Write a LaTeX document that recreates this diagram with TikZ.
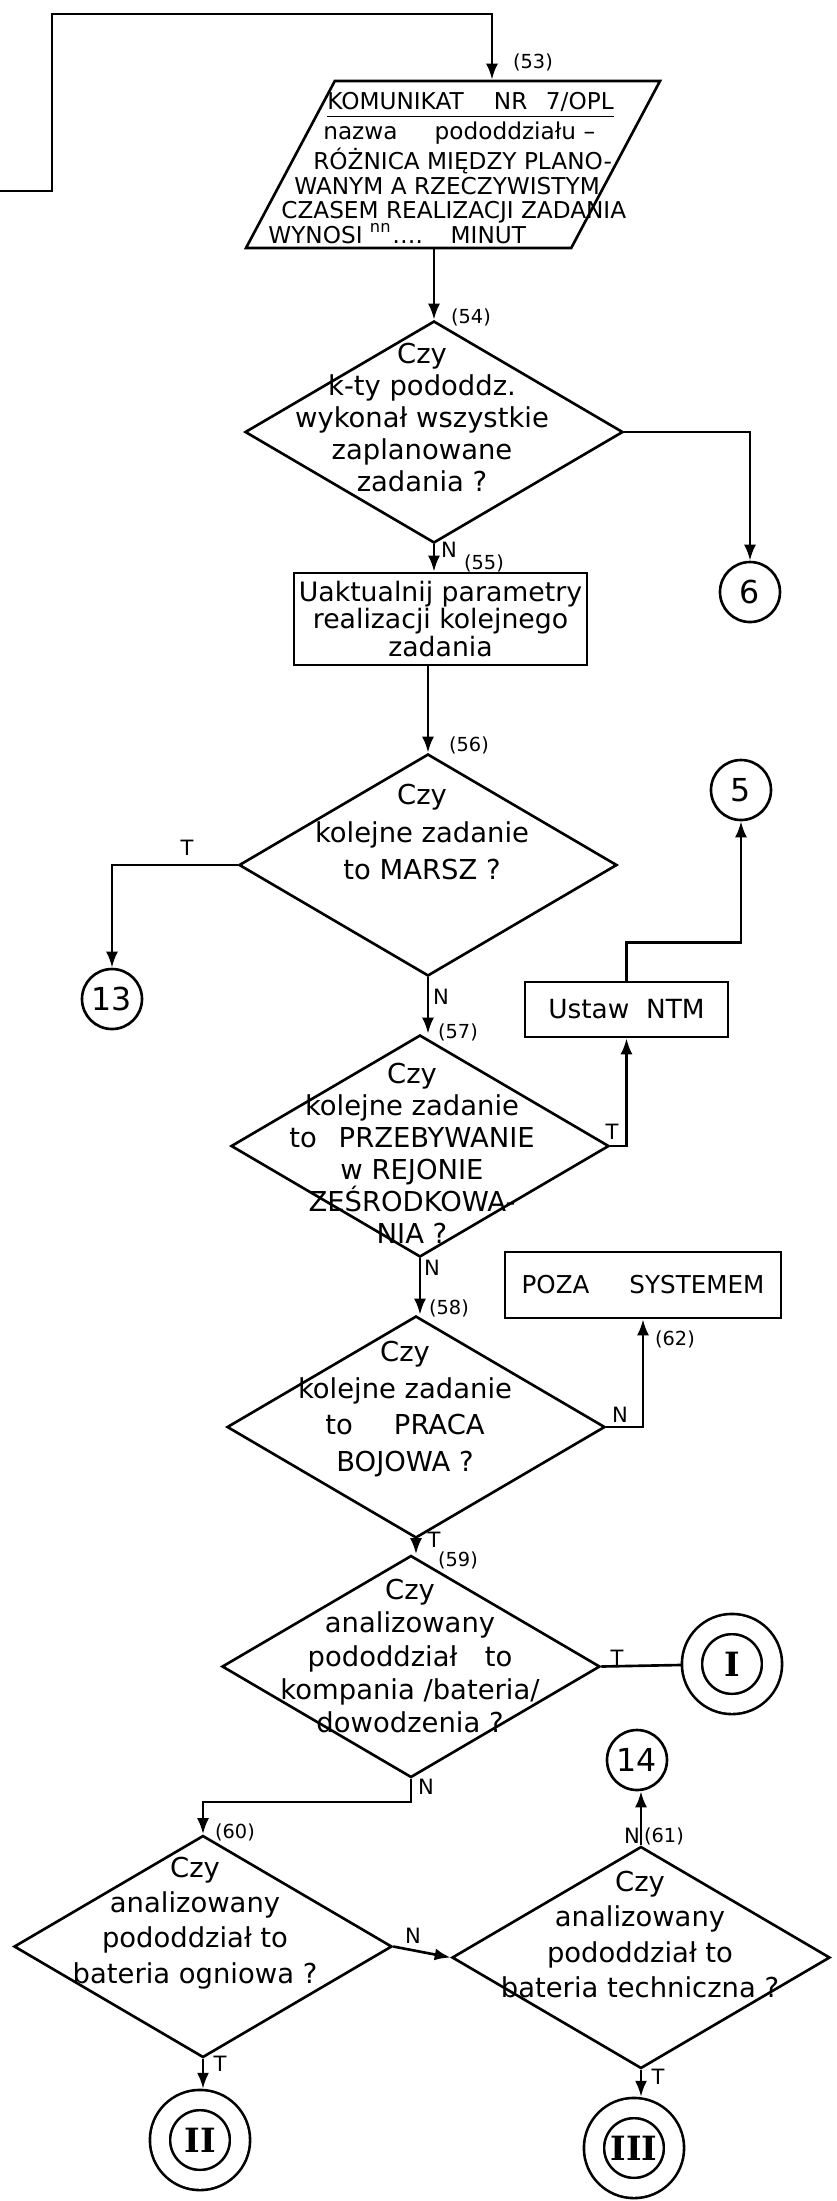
\documentclass[tikz,border=0pt]{standalone}
\usepackage{fontspec}
\setmainfont{DejaVu Sans}
\newfontfamily\romanfont{DejaVu Serif}
\usepackage{tikz}
\usetikzlibrary{arrows.meta, positioning, shapes.geometric, calc}

\begin{document}
\begin{tikzpicture}[
    line width=0.75pt,
    >={Latex[length=1.6mm,width=1.2mm]},
    decision/.style={diamond, draw, minimum width=3.78cm, minimum height=2.22cm, inner sep=0pt},
    dtext/.style={align=center, inner sep=0pt, font=\fontsize{7.8}{#1}\selectfont},
    block/.style={rectangle, draw, inner sep=0.5pt, align=center},
    datain/.style={trapezium, draw, trapezium left angle=62, trapezium right angle=118,
      trapezium stretches body=true, minimum width=4.14cm, inner sep=0pt},
    conn/.style={circle, draw, minimum size=0.6cm, inner sep=0pt, font=\fontsize{9}{10}\selectfont},
    exit/.style={circle, draw, double, double distance=1.75mm, minimum size=0.8cm, inner sep=0pt,
      outer sep=1.12mm, font=\romanfont\bfseries\fontsize{9.5}{9.5}\selectfont},
    stepno/.style={inner sep=0pt, font=\fontsize{5.5}{6}\selectfont},
    yn/.style={inner sep=0pt, font=\fontsize{6}{6}\selectfont}
  ]
  \useasboundingbox (0,0) rectangle (8.36,-22.01);

  \node[datain] (kom) at (4.53,-1.645) {\rule{0pt}{1.67cm}};
  \node[align=left, anchor=west, inner sep=0pt, font=\fontsize{6.6}{7.03}\selectfont] (komtxt) at (2.67,-1.68)
    {\hspace*{5.9mm}\underline{KOMUNIKAT\hspace{1.3em}NR\hspace{0.8em}7/OPL}\\
     \hspace*{5.5mm}nazwa\hspace{1.6em}pododdziału --\\
     \hspace*{4.5mm}RÓŻNICA MIĘDZY PLANO-\\
     \hspace*{2.6mm}WANYM A RZECZYWISTYM\\
     \hspace*{1.3mm}CZASEM REALIZACJI ZADANIA\\
     WYNOSI \textsuperscript{nn}\ldots.\hspace{1.2em}MINUT};

  \node[decision] (d54) at (4.34,-4.32) {};
  \node[dtext=9.1] (t54) at (4.22,-4.175) {Czy\\k-ty pododdz.\\wykonał wszystkie\\zaplanowane\\zadania ?};
  \node[conn] (c6) at (7.50,-5.92) {6};

  \node[block, minimum width=2.93cm, minimum height=0.92cm, font=\fontsize{7.6}{7.8}\selectfont] (b55) at (4.405,-6.19)
    {Uaktualnij parametry\\realizacji kolejnego\\zadania};

  \node[decision] (d56) at (4.28,-8.65) {};
  \node[dtext=10.8] (t56) at (4.22,-8.32) {Czy\\kolejne zadanie\\to MARSZ ?};
  \node[conn] (c13) at (1.12,-9.99) {13};
  \node[conn] (c5) at (7.41,-7.90) {5};
  \node[block, minimum width=2.03cm, minimum height=0.55cm, font=\fontsize{7.5}{8}\selectfont] (ntm) at (6.265,-10.095) {Ustaw\ \ NTM};

  \node[decision] (d57) at (4.20,-11.46) {};
  \node[dtext=9.1] (t57) at (4.12,-11.53) {Czy\\kolejne zadanie\\to\hspace{0.8em}PRZEBYWANIE\\w REJONIE\\ZEŚRODKOWA-\\NIA ?};
  \node[block, minimum width=2.76cm, minimum height=0.66cm, font=\fontsize{7}{8}\selectfont] (poza) at (6.43,-12.85) {POZA\hspace{4mm}SYSTEMEM};

  \node[decision] (d58) at (4.16,-14.27) {};
  \node[dtext=10.5] (t58) at (4.05,-14.09) {Czy\\kolejne zadanie\\to\hspace{1.5em}PRACA\\BOJOWA ?};

  \node[decision] (d59) at (4.11,-16.665) {};
  \node[dtext=9.4] (t59) at (4.10,-16.56) {Czy\\analizowany\\pododdział\hspace{1em}to\\kompania /bateria/\\dowodzenia ?};
  \node[exit] (cI) at (7.32,-16.64) {I};

  \node[decision] (d60) at (2.03,-19.465) {};
  \node[dtext=10] (t60) at (1.95,-19.23) {Czy\\analizowany\\pododdział to\\bateria ogniowa ?};
  \node[exit] (cII) at (2.00,-21.40) {II};

  \node[decision] (d61) at (6.41,-19.575) {};
  \node[dtext=10] (t61) at (6.40,-19.345) {Czy\\analizowany\\pododdział to\\bateria techniczna ?};
  \node[conn] (c14) at (6.37,-17.60) {14};
  \node[exit] (cIII) at (6.34,-21.48) {III};

  \foreach \n/\x/\y in {53/5.33/-0.62, 54/4.71/-3.17, 55/4.84/-5.63, 56/4.69/-7.45, 57/4.58/-10.32,
      58/4.49/-13.08, 59/4.58/-15.60, 60/2.35/-18.32, 61/6.64/-18.36, 62/6.75/-13.39}
    \node[stepno] (s\n) at (\x,\y) {(\n)};

  \foreach \lab/\x/\y [count=\i] in {N/4.49/-5.50, T/1.87/-8.48, N/4.41/-9.97, T/6.12/-11.32, N/4.32/-12.68,
      N/6.20/-14.15, T/4.34/-15.40, T/6.17/-16.58, N/4.26/-17.87, N/4.13/-19.36, N/6.32/-18.36,
      T/2.20/-20.64, T/6.58/-20.77}
    \node[yn] (a\i) at (\x,\y) {\lab};

  \coordinate (back) at (0,-1.91);
  \coordinate (bend) at (0.52,-0.14);
  \draw[->] (back) -| (bend) -| ([xshift=3.9mm]kom.north);
  \draw[->] (kom.south -| d54.north) -- (d54.north);
  \draw[->] (d54.south) -- (d54.south |- b55.north);
  \draw[->] (d54.east) -| (c6);
  \draw[->] (b55.south -| d56.north) -- (d56.north);
  \draw[->] (d56.west) -| (c13);
  \draw[->] (d56.south) -- (d56.south |- d57.north);
  \draw[->] (d57.east) -| (ntm);
  \draw[->] (ntm.north) -- ++(0,0.38) -| (c5);
  \draw[->] (d57.south) -- (d57.south |- d58.north);
  \draw[->] (d58.east) -| (poza);
  \draw[->] (d58.south) -- (d58.south |- d59.north);
  \draw (d59.east) -- (cI);
  \draw[->] (d59.south) -- ++(0,-0.23) -| (d60.north);
  \draw[->] (d60.east) -- (d61.west);
  \draw[->] (d60.south) -- (d60.south |- cII.north);
  \draw[->] (d61.north) -- (d61.north |- c14.south);
  \draw[->] (d61.south) -- (d61.south |- cIII.north);
\end{tikzpicture}
\end{document}
